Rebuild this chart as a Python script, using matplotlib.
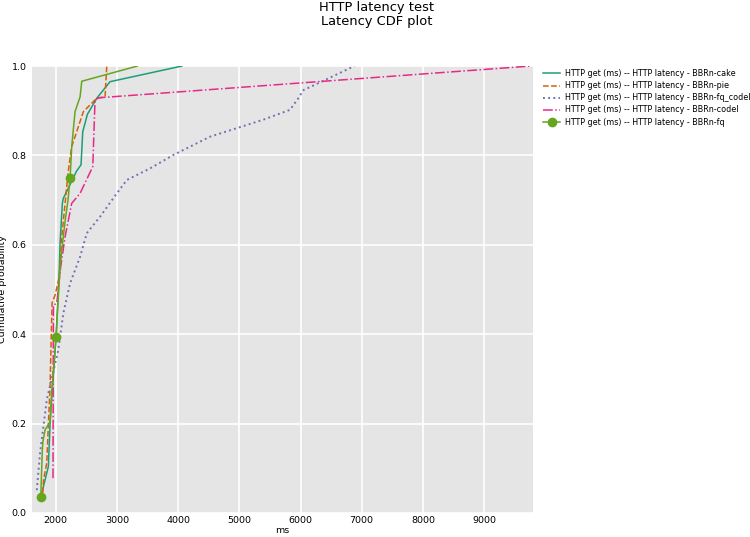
import numpy as np
import matplotlib
matplotlib.use("Agg")
import matplotlib.pyplot as plt

# ====== Datos (ms, probabilidad acumulada) ======
series_nombres = [
    "HTTP get (ms) -- HTTP latency - BBRn-cake",
    "HTTP get (ms) -- HTTP latency - BBRn-pie",
    "HTTP get (ms) -- HTTP latency - BBRn-fq_codel",
    "HTTP get (ms) -- HTTP latency - BBRn-codel",
    "HTTP get (ms) -- HTTP latency - BBRn-fq",
]

cake_ms = [1771, 1825, 1879, 1907, 1935, 2005, 2043, 2059, 2070, 2108, 2124, 2340, 2413, 2441, 2517, 2670, 2887, 4060]
cake_p = [0.044, 0.074, 0.104, 0.200, 0.260, 0.394, 0.500, 0.551, 0.604, 0.693, 0.704, 0.765, 0.779, 0.853, 0.892, 0.928, 0.965, 1.0]

pie_ms = [1787, 1800, 1853, 1880, 1907, 1925, 1940, 1990, 2060, 2098, 2206, 2261, 2451, 2670, 2806, 2833]
pie_p = [0.045, 0.074, 0.112, 0.200, 0.283, 0.390, 0.470, 0.488, 0.530, 0.618, 0.767, 0.820, 0.898, 0.928, 0.931, 1.0]

fqc_ms = [1690, 1743, 1853, 2042, 2124, 2234, 2397, 2507, 2724, 2997, 3160, 3541, 3922, 4521, 4958, 5392, 5828, 5964, 6046, 6373, 6880]
fqc_p = [0.051, 0.134, 0.253, 0.365, 0.447, 0.514, 0.573, 0.626, 0.663, 0.715, 0.745, 0.771, 0.801, 0.842, 0.861, 0.880, 0.902, 0.928, 0.946, 0.967, 1.0]

codel_ms = [1955, 1961, 2016, 2080, 2152, 2261, 2397, 2605, 2642, 2700, 9760]
codel_p = [0.078, 0.465, 0.469, 0.550, 0.618, 0.693, 0.715, 0.775, 0.924, 0.929, 1.0]

fq_ms = [1755, 1770, 1780, 1790, 1825, 1907, 1935, 1970, 2005, 2040, 2070, 2098, 2150, 2200, 2234, 2261, 2315, 2397, 2425, 3333]
fq_p = [0.036, 0.100, 0.140, 0.160, 0.186, 0.204, 0.275, 0.330, 0.393, 0.480, 0.550, 0.588, 0.650, 0.700, 0.750, 0.820, 0.898, 0.931, 0.966, 1.0]
fq_marcas = [0, 8, 14]

x_ticks = [2000, 3000, 4000, 5000, 6000, 7000, 8000, 9000]
y_ticks = [0.0, 0.2, 0.4, 0.6, 0.8, 1.0]

colores = ["#1b9e77", "#d95f02", "#7570b3", "#e7298a", "#66a61e"]

# ====== Figura ======
fig = plt.figure(figsize=(7.5, 5.37), dpi=100)
ax = fig.add_axes([0.0427, 0.0447, 0.668, 0.8323])
ax.set_facecolor("#e5e5e5")
for lado in ax.spines.values():
    lado.set_visible(False)
ax.grid(True, color="white", linewidth=1.2)
ax.set_axisbelow(True)

lw = 1.1
ax.plot(cake_ms, cake_p, color=colores[0], linestyle="-", linewidth=lw, label=series_nombres[0])
ax.plot(pie_ms, pie_p, color=colores[1], linestyle="--", linewidth=lw, label=series_nombres[1])
ax.plot(fqc_ms, fqc_p, color=colores[2], linestyle=":", linewidth=1.4, label=series_nombres[2])
ax.plot(codel_ms, codel_p, color=colores[3], linestyle="-.", linewidth=lw, label=series_nombres[3])
ax.plot(fq_ms, fq_p, color=colores[4], linestyle="-", linewidth=lw, marker="o",
        markersize=6, markevery=fq_marcas, label=series_nombres[4])

ax.set_xlim(1612, 9800)
ax.set_ylim(0, 1)
ax.set_xticks(x_ticks)
ax.set_yticks(y_ticks)
ax.tick_params(axis="both", length=0, labelsize=6.8, labelcolor="black")
ax.tick_params(axis="x", pad=2.5)
ax.tick_params(axis="y", pad=4)
ax.set_xlabel("ms", fontsize=6.8, labelpad=0.5)
ax.set_ylabel("Cumulative probability", fontsize=6.8, labelpad=3)

fig.text(0.502, 0.998, "HTTP latency test\nLatency CDF plot", ha="center", va="top",
         fontsize=9.4, linespacing=1.1)

ax.legend(loc="upper left", bbox_to_anchor=(1.013, 1.0), frameon=False, fontsize=5.8,
          handlelength=2.2, handletextpad=0.6, labelspacing=0.38, borderaxespad=0.0)

fig.savefig("out.png", dpi=100)
